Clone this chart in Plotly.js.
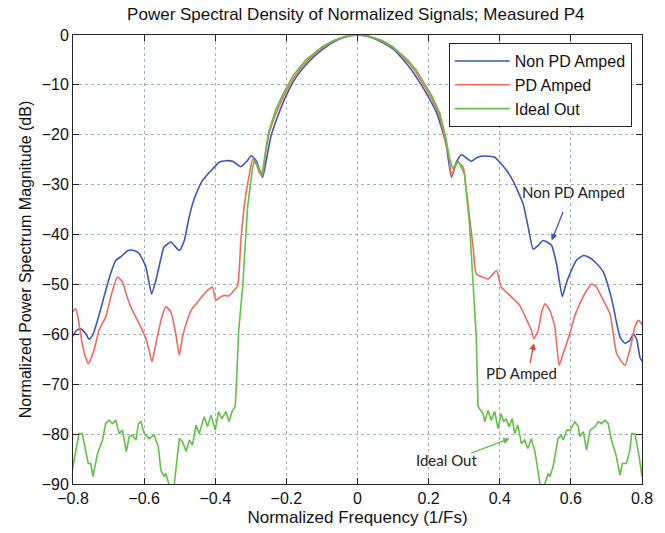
<!DOCTYPE html>
<html>
<head>
<meta charset="utf-8">
<script src="https://cdn.plot.ly/plotly-3.0.1.min.js"></script>
<style>html,body{margin:0;padding:0;background:#fff;}#chart{width:665px;height:533px;}</style>
</head>
<body>
<div id="chart"></div>
<script>
// Non PD Amped (blue)
const nonPdFreq = [-0.802,-0.79,-0.778,-0.765,-0.755,-0.745,-0.731,-0.708,-0.695,-0.68,-0.661,-0.648,-0.637,-0.625,-0.614,-0.595,-0.579,-0.567,-0.555,-0.544,-0.525,-0.501,-0.487,-0.475,-0.464,-0.45,-0.436,-0.42,-0.408,-0.389,-0.37,-0.351,-0.328,-0.31,-0.299,-0.285,-0.267,
  -0.255,-0.243,-0.22,-0.201,-0.17,-0.135,-0.1,-0.07,-0.035,0,0.035,0.062,0.1,0.128,0.15,0.175,0.2,0.222,0.24,0.25,
  0.264,0.278,0.292,0.305,0.32,0.335,0.348,0.37,0.386,0.4,0.418,0.437,0.452,0.466,0.48,0.494,0.508,0.522,0.535,0.546,0.56,0.576,0.586,0.597,0.615,0.635,0.652,0.668,0.691,0.715,0.738,0.752,0.766,0.776,0.785,0.795,0.802];
const nonPdDb = [-60.5,-59.2,-58.9,-59.8,-61,-60.2,-57.2,-51.2,-48,-45.2,-44.2,-43.3,-43.1,-43.3,-43.8,-46.5,-51.9,-49.2,-45.5,-42.5,-41.5,-43.2,-41.2,-37,-33.9,-31.2,-29.2,-27.8,-26.9,-25.5,-25.2,-25.3,-26.4,-25.2,-24.2,-25.2,-28.5,
  -24.5,-20.2,-15.5,-12.2,-8.2,-5.2,-3,-1.5,-0.4,0,-0.4,-1.2,-2.8,-4.9,-6.8,-9.5,-12.5,-15.5,-19.5,-22.2,
  -28.5,-25.5,-24,-24.6,-25.3,-24.6,-24.3,-24.3,-24.5,-25.5,-27,-29.2,-31.5,-33.9,-38.5,-42.9,-42.2,-41.2,-41.6,-42.2,-46,-52.4,-50,-47.9,-45.2,-44.2,-44.6,-45.5,-47.5,-53,-60.5,-61.8,-61.2,-59.9,-61,-64.8,-65.5];

// PD Amped (red)
const pdFreq = [-0.802,-0.792,-0.785,-0.775,-0.765,-0.757,-0.741,-0.727,-0.708,-0.69,-0.675,-0.661,-0.648,-0.633,-0.62,-0.605,-0.595,-0.585,-0.578,-0.57,-0.563,-0.55,-0.539,-0.525,-0.511,-0.501,-0.492,-0.482,-0.468,-0.454,-0.435,-0.417,-0.408,-0.398,-0.385,-0.375,-0.362,-0.351,-0.337,-0.328,-0.316,-0.304,-0.295,-0.287,-0.276,-0.268,
  -0.258,-0.248,-0.225,-0.207,-0.175,-0.14,-0.1,-0.07,-0.035,0,0.035,0.07,0.1,0.135,0.16,0.18,0.205,0.228,0.245,0.258,
  0.264,0.274,0.283,0.297,0.306,0.315,0.325,0.334,0.35,0.367,0.38,0.391,0.404,0.43,0.456,0.475,0.489,0.496,0.508,0.518,0.527,0.541,0.555,0.567,0.578,0.597,0.61,0.625,0.642,0.658,0.672,0.682,0.71,0.729,0.752,0.771,0.78,0.79,0.802];
const pdDb = [-55.5,-54.9,-57,-61.5,-64.5,-65.9,-63.2,-59.2,-56.5,-51.5,-48.5,-49.5,-52.5,-55.2,-57,-59.2,-60.9,-63.5,-65.5,-63,-60.5,-56.5,-54.5,-55.5,-59.9,-64.2,-60.5,-57.9,-55.2,-53.9,-52.2,-50.9,-50.5,-53.2,-52.5,-52.2,-52.3,-51.5,-50.2,-41.2,-33,-27.9,-24.9,-25.4,-27.6,-28.2,
  -23.5,-19.5,-15,-12.2,-8.2,-5.1,-2.7,-1.3,-0.3,0,-0.3,-1.3,-2.6,-4.9,-7,-9.3,-12.3,-15.8,-20.5,-25,
  -28.2,-26.5,-25.5,-26.5,-31,-36.5,-42.5,-47.9,-48.5,-48.9,-48,-47.2,-50.5,-52.3,-54.2,-57,-59.2,-60.9,-59.2,-55.5,-53.9,-55.2,-58.5,-66.2,-63.9,-59.9,-56.5,-53.9,-51.5,-49.9,-50.5,-51.9,-55.9,-63.9,-66.2,-61.5,-58.5,-57.2,-58.2];

// Ideal Out (green)
const idealFreq = [-0.802,-0.783,-0.774,-0.757,-0.75,-0.744,-0.731,-0.717,-0.708,-0.699,-0.689,-0.68,-0.67,-0.661,-0.65,-0.642,-0.633,-0.623,-0.616,-0.609,-0.6,-0.586,-0.572,-0.56,-0.553,-0.544,-0.539,-0.532,-0.524,-0.515,-0.506,-0.501,-0.492,-0.482,-0.473,-0.464,-0.454,-0.445,-0.431,-0.422,-0.412,-0.4,-0.391,-0.381,-0.37,-0.361,-0.353,-0.344,-0.34,-0.334,-0.323,-0.309,-0.295,-0.29,-0.28,-0.268,
  -0.258,-0.25,-0.23,-0.212,-0.18,-0.145,-0.1,-0.07,-0.035,0,0.035,0.07,0.1,0.14,0.165,0.185,0.21,0.232,0.248,0.258,
  0.268,0.283,0.301,0.315,0.327,0.334,0.339,0.353,0.358,0.367,0.376,0.386,0.395,0.404,0.411,0.418,0.426,0.435,0.442,0.451,0.461,0.47,0.479,0.489,0.499,0.508,0.513,0.522,0.536,0.541,0.55,0.564,0.573,0.578,0.589,0.598,0.611,0.621,0.625,0.635,0.644,0.654,0.668,0.677,0.686,0.696,0.705,0.714,0.727,0.738,0.745,0.756,0.766,0.771,0.78,0.792,0.8];
const idealDb = [-87.2,-79.9,-79.9,-85.9,-85.9,-88.5,-83.9,-81.2,-77.9,-77.2,-77.9,-77.2,-79.9,-79.2,-83.5,-80.5,-80.2,-81.2,-77.9,-77.5,-79.9,-80.9,-80.2,-82.5,-87.2,-88.5,-87.9,-89.9,-91.5,-89.9,-83.2,-80.9,-81.5,-83.5,-81.2,-82.2,-78.2,-79.9,-76.5,-78.5,-76.2,-79.2,-75.5,-76.9,-75.5,-77.5,-75.5,-74.5,-69.2,-59.2,-50.5,-34.5,-26.5,-25.2,-26.5,-27.9,
  -23,-19.5,-15,-12.2,-8,-5,-2.4,-1.2,-0.3,0,-0.3,-1.1,-2.4,-4.9,-7,-9.3,-12.3,-15.8,-20.5,-24.5,
  -26.8,-25.2,-27.9,-37.9,-51.2,-60.5,-74.5,-75.9,-77.5,-75.2,-77.2,-75.5,-78.9,-75.9,-77.5,-76.9,-78.5,-76.9,-79.9,-78.2,-81.9,-81.2,-82.9,-80.9,-83.5,-87.9,-89.9,-91,-87.9,-88.5,-86.5,-80.9,-80.2,-81.2,-79.2,-79.2,-77.5,-78.5,-80.5,-79.5,-83.2,-79.2,-78.5,-77.5,-77.9,-77.2,-77.9,-81.2,-84.2,-88.2,-85.9,-85.9,-83.2,-79.9,-79.9,-84.5,-88.5];

const seriesNames = ['Non PD Amped', 'PD Amped', 'Ideal Out'];
const seriesColors = ['#3a56bd', '#f26a5c', '#62c145'];
const seriesShapes = ['spline', 'spline', 'linear'];
const xTickVals = [-0.8,-0.6,-0.4,-0.2,0,0.2,0.4,0.6,0.8];
const xTickText = ['\u22120.8','\u22120.6','\u22120.4','\u22120.2','0','0.2','0.4','0.6','0.8'];
const yTickVals = [0,-10,-20,-30,-40,-50,-60,-70,-80,-90];

const font = 'Liberation Sans, Arial, sans-serif';
const xs = [nonPdFreq, pdFreq, idealFreq];
const ys = [nonPdDb, pdDb, idealDb];
const traces = seriesNames.map((n, i) => ({
  x: xs[i], y: ys[i], name: n, type: 'scatter', mode: 'lines',
  line: {color: seriesColors[i], width: 1.6, shape: seriesShapes[i], smoothing: 0.5}
}));

const axisCommon = {
  showline: true, linecolor: '#222', linewidth: 1, mirror: 'ticks',
  ticks: 'inside', ticklen: 6, tickcolor: '#222',
  showgrid: true, gridcolor: '#9fb2c2', griddash: 'dot', gridwidth: 1,
  zeroline: false, tickfont: {family: font, size: 16, color: '#111'}
};

const annFont = {family: 'Lato, sans-serif', size: 15, color: '#222'};

const layout = {
  width: 665, height: 533,
  margin: {l: 73, r: 23, t: 35, b: 49},
  paper_bgcolor: '#ffffff', plot_bgcolor: '#ffffff',
  title: {text: 'Power Spectral Density of Normalized Signals; Measured P4',
          font: {family: font, size: 17, color: '#111'}, x: 0.535, xanchor: 'center', y: 0.985, yanchor: 'top'},
  xaxis: Object.assign({}, axisCommon, {
    range: [-0.8, 0.8], tickvals: xTickVals, ticktext: xTickText,
    title: {text: 'Normalized Frequency (1/Fs)', font: {family: font, size: 17, color: '#111'}, standoff: 4}
  }),
  yaxis: Object.assign({}, axisCommon, {
    range: [-90, 0], tickvals: yTickVals,
    title: {text: 'Normalized Power Spectrum Magnitude (dB)', font: {family: font, size: 16, color: '#111'}, standoff: 6}
  }),
  legend: {
    x: 0.982, y: 0.982, xanchor: 'right', yanchor: 'top',
    bgcolor: '#ffffff', bordercolor: '#222', borderwidth: 1,
    font: {family: font, size: 16, color: '#111'}, itemwidth: 55, tracegroupgap: 0
  },
  showlegend: true,
  annotations: [
    {x: 0.607, y: -31.5, text: 'Non PD Amped', showarrow: false, font: annFont},
    {x: 0.546, y: -41.2, ax: 12, ay: -30, text: '', showarrow: true, arrowhead: 2, arrowsize: 1, arrowwidth: 1.3, arrowcolor: '#3a56bd'},
    {x: 0.461, y: -67.7, text: 'PD Amped', showarrow: false, font: annFont},
    {x: 0.496, y: -61.8, ax: -4, ay: 21, text: '', showarrow: true, arrowhead: 2, arrowsize: 1, arrowwidth: 1.3, arrowcolor: '#f03a2c'},
    {x: 0.25, y: -85.2, text: 'Ideal Out', showarrow: false, font: annFont},
    {x: 0.428, y: -80.9, ax: -40, ay: 15, text: '', showarrow: true, arrowhead: 2, arrowsize: 1, arrowwidth: 1.3, arrowcolor: '#62c145'}
  ]
};

Plotly.newPlot('chart', traces, layout, {displayModeBar: false, staticPlot: true});
</script>
</body>
</html>
